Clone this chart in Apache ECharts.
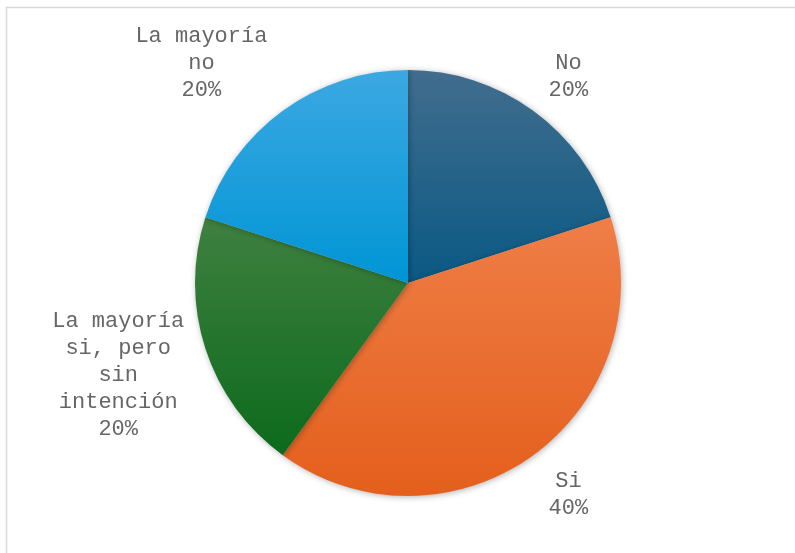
<!DOCTYPE html>
<html>
<head>
<meta charset="utf-8">
<script src="https://cdn.jsdelivr.net/npm/echarts@6/dist/echarts.min.js"></script>
<style>html,body{margin:0;padding:0;background:#fff}#c{width:795px;height:553px}</style>
</head>
<body>
<div id="c"></div>
<script>
var categories = ['No', 'Si', 'La mayoría\nsi, pero\nsin\nintención', 'La mayoría\nno'];
var values = [20, 40, 20, 20];
var percentLabels = ['20%', '40%', '20%', '20%'];
var topColors = ['#416d8e', '#ef7e47', '#3f8040', '#3ca8e2'];
var bottomColors = ['#0a5984', '#e45f1c', '#0c6a1c', '#0095d5'];

var CX = 408, CY = 283, R = 213, GAP = 16;
var total = values.reduce(function (a, b) { return a + b; }, 0);

function midAngle(i) {
  var acc = 0;
  for (var k = 0; k < i; k++) acc += values[k];
  return ((acc + values[i] / 2) / total) * 2 * Math.PI; // clockwise from top
}

var chart = echarts.init(document.getElementById('c'), null, { renderer: 'canvas' });
chart.setOption({
  animation: false,
  backgroundColor: '#ffffff',
  graphic: [{
    type: 'rect', silent: true, z: -10,
    shape: { x: 6.5, y: 7.5, width: 900, height: 900 },
    style: { fill: 'none', stroke: '#d9d9d9', lineWidth: 1.5 }
  }],
  series: [{
    type: 'pie',
    center: [CX, CY],
    radius: R,
    startAngle: 90,
    clockwise: true,
    avoidLabelOverlap: false,
    labelLine: { show: false },
    label: {
      show: true,
      position: 'outside',
      fontFamily: '"Liberation Mono", "Courier New", monospace',
      fontSize: 22,
      lineHeight: 27,
      color: '#666666',
      formatter: function (p) { return p.name + '\n' + percentLabels[p.dataIndex]; }
    },
    labelLayout: function (p) {
      var a = midAngle(p.dataIndex);
      var ux = Math.sin(a), uy = -Math.cos(a);
      var w = p.labelRect.width / 2, h = p.labelRect.height / 2;
      var sx = ux >= 0 ? 1 : -1;
      var px = CX + (R + GAP) * ux + 6 * sx, py = CY + (R + GAP) * uy;
      var ox = sx * w;
      var ratio = uy / Math.max(Math.abs(ux), 1e-6);
      ratio = Math.max(-1, Math.min(1, ratio));
      var oy = (ratio < 0 ? (h - 6) : (h - 1)) * ratio;
      return { x: px + ox, y: py + oy, align: 'center', verticalAlign: 'middle' };
    },
    itemStyle: {
      shadowBlur: 6,
      shadowColor: 'rgba(0,0,0,0.3)',
      shadowOffsetX: 1,
      shadowOffsetY: 1
    },
    emphasis: { disabled: true },
    data: values.map(function (v, i) {
      return {
        name: categories[i],
        value: v,
        itemStyle: {
          color: new echarts.graphic.LinearGradient(0, 0, 0, 1, [
            { offset: 0, color: topColors[i] },
            { offset: 1, color: bottomColors[i] }
          ])
        }
      };
    })
  }]
});
</script>
</body>
</html>
